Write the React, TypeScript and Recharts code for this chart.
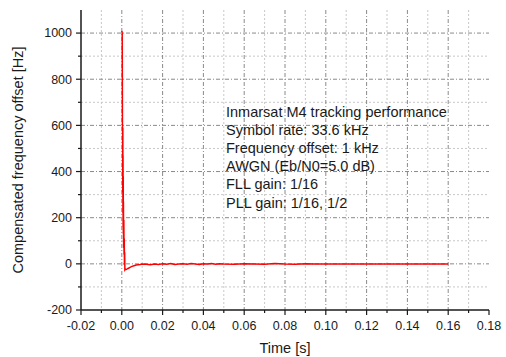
import React from 'react';
import { LineChart, Line, XAxis, YAxis, CartesianGrid } from 'recharts';

// time axis [s] and compensated offset [Hz]
const timeS = [
  0, 0.0002, 0.0003, 0.0004, 0.00045, 0.0005, 0.00055, 0.0006, 0.00065, 0.0007,
  0.00075, 0.0008, 0.0009, 0.001, 0.0011, 0.0012, 0.0013, 0.0014, 0.0015, 0.0017,
  0.002, 0.0025, 0.003, 0.0035, 0.004, 0.005, 0.006, 0.007, 0.008, 0.009,
  0.010, 0.012, 0.014, 0.016, 0.018, 0.020, 0.022, 0.024, 0.026, 0.028,
  0.030, 0.032, 0.034, 0.036, 0.038, 0.040, 0.042, 0.044, 0.046, 0.048,
  0.050, 0.055, 0.060, 0.065, 0.070, 0.075, 0.080, 0.085, 0.090, 0.095,
  0.100, 0.110, 0.120, 0.130, 0.140, 0.150, 0.160,
];
const offsetHz = [
  1010, 1000, 610, 560, 310, 590, 220, 470, 160, 380,
  130, 270, 70, 190, 40, 110, -5, 50, -25, -22,
  -25, -23, -20, -18, -15, -11, -8, -5, -4, -3,
  -1, -2, -4, -1, -3, 0, -2, 1, -3, -1,
  0, -2, 1, -1, -3, 0, -1, 1, -2, 0,
  -1, -2, 0, -1, -2, 1, -1, -2, 0, -1,
  -1, -1, -1, -1, -1, -1, -1,
];

const xMajor = [-0.02, 0, 0.02, 0.04, 0.06, 0.08, 0.1, 0.12, 0.14, 0.16, 0.18];
const xMinor = [-0.01, 0.01, 0.03, 0.05, 0.07, 0.09, 0.11, 0.13, 0.15, 0.17];
const yMajor = [-200, 0, 200, 400, 600, 800, 1000];
const yMinor = [-100, 100, 300, 500, 700, 900];

const notes = [
  'Inmarsat M4 tracking performance',
  'Symbol rate: 33.6 kHz',
  'Frequency offset: 1 kHz',
  'AWGN (Eb/N0=5.0 dB)',
  'FLL gain: 1/16',
  'PLL gain: 1/16, 1/2',
];

const data = timeS.map((t, i) => ({ t, v: offsetHz[i] }));

const FONT = '"Liberation Sans", Arial, sans-serif';
const INK = '#1a1a1a';

const XTick = (props: any) => {
  const { x, y, payload } = props;
  const major = xMajor.includes(payload.value);
  return (
    <g>
      <line x1={x} x2={x} y1={y} y2={y + (major ? 5 : 3)} stroke={INK} strokeWidth={1.2} />
      {major && (
        <text x={x} y={y + 20} textAnchor="middle" fontSize={12.5} fontFamily={FONT} fill={INK}>
          {payload.value.toFixed(2)}
        </text>
      )}
    </g>
  );
};

const YTick = (props: any) => {
  const { x, y, payload } = props;
  const major = yMajor.includes(payload.value);
  return (
    <g>
      <line x1={x - (major ? 5 : 3)} x2={x} y1={y} y2={y} stroke={INK} strokeWidth={1.2} />
      {major && (
        <text x={x - 9} y={y} dy="0.35em" textAnchor="end" fontSize={12.5} fontFamily={FONT} fill={INK}>
          {String(payload.value)}
        </text>
      )}
    </g>
  );
};

export default function App() {
  return (
    <div style={{ position: 'absolute', left: 0, top: 0, width: 506, height: 357, background: '#fff' }}>
      <LineChart width={506} height={357} data={data} margin={{ top: 10, right: 17, bottom: 0, left: 0 }}>
        <CartesianGrid
          verticalValues={xMinor}
          horizontalValues={yMinor}
          stroke="#c8c8c8"
          strokeDasharray="2 2"
        />
        <CartesianGrid
          verticalValues={xMajor.filter(v => v > -0.02 && v < 0.18)}
          horizontalValues={yMajor.filter(v => v > -200)}
          stroke="#8a8a8a"
          strokeDasharray="4 2 1 2"
        />
        <XAxis
          dataKey="t"
          type="number"
          domain={[-0.02, 0.18]}
          ticks={[...xMajor, ...xMinor]}
          interval={0}
          tickSize={0}
          tickMargin={0}
          tick={<XTick />}
          height={47}
          axisLine={{ stroke: INK, strokeWidth: 1.5 }}
          label={{ value: 'Time [s]', position: 'insideBottom', offset: 4, fontSize: 14.5, fontFamily: FONT, fill: INK }}
        />
        <YAxis
          type="number"
          domain={[-200, 1100]}
          ticks={[...yMajor, ...yMinor]}
          interval={0}
          tickSize={0}
          tickMargin={0}
          tick={<YTick />}
          width={81}
          allowDataOverflow
          axisLine={{ stroke: INK, strokeWidth: 1.5 }}
          label={{
            value: 'Compensated frequency offset [Hz]',
            angle: -90,
            position: 'insideLeft',
            offset: 18,
            style: { textAnchor: 'middle', fontSize: 14.5, fontFamily: FONT, fill: INK },
          }}
        />
        <Line
          dataKey="v"
          type="linear"
          stroke="#ff0000"
          strokeWidth={1.5}
          dot={false}
          isAnimationActive={false}
        />
      </LineChart>
      <svg width={506} height={357} style={{ position: 'absolute', left: 0, top: 0, pointerEvents: 'none' }}>
        {notes.map((n, i) => (
          <text key={n} x={226} y={117 + i * 18.1} fontSize={14.5} fontFamily={FONT} fill={INK}>
            {n}
          </text>
        ))}
      </svg>
    </div>
  );
}
